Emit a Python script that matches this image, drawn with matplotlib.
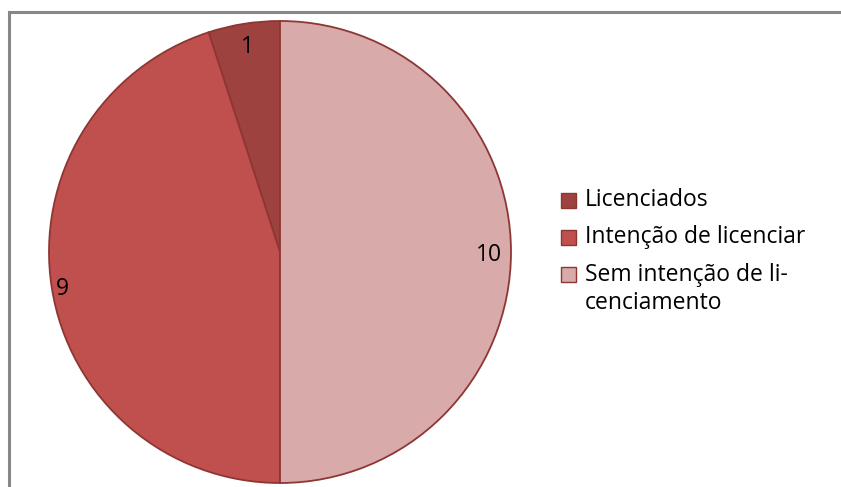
import matplotlib
matplotlib.use("Agg")
import matplotlib.pyplot as plt
from matplotlib.patches import Rectangle

# Data
categories = ["Licenciados", "Intenção de licenciar", "Sem intenção de li-\ncenciamento"]
values = [1, 9, 10]
colors = ["#9E4240", "#C0504D", "#D9AAAA"]
edge_color = "#8E3634"

W, H = 841, 487
fig = plt.figure(figsize=(W / 100, H / 100), dpi=100)
fig.patch.set_facecolor("white")

plt.rcParams["font.family"] = ["Open Sans", "DejaVu Sans"]

# Outer chart frame (only top and left edges fall inside the canvas)
frame = Rectangle((8.5 / W, -0.05), 1.2, 1.05 - 11.5 / H, transform=fig.transFigure,
                  fill=False, edgecolor="#878787", linewidth=2.2)
fig.patches.append(frame)

# Pie area: centre (280, 252) px, radius 231 px
cx, cy, r = 280, 252, 231
ax = fig.add_axes([(cx - r) / W, 1 - (cy + r) / H, 2 * r / W, 2 * r / H])
total = sum(values)
wedges, texts, autotexts = ax.pie(
    values, colors=colors, startangle=90, counterclock=True,
    autopct=lambda p: f"{round(p * total / 100)}", pctdistance=0.91,
    wedgeprops=dict(edgecolor=edge_color, linewidth=1.3),
    textprops=dict(fontsize=16.5, color="black"),
)
ax.set_xlim(-1, 1)
ax.set_ylim(-1, 1)
ax.set_aspect("equal")
ax.axis("off")

# Fine-tune label distance for the wide wedge
dist = [0.91, 0.955, 0.905]
for t, d in zip(autotexts, dist):
    x, y = t.get_position()
    t.set_position((x * d / 0.91, y * d / 0.91 - 0.012))

# Legend
rows_y = [200, 237, 289]
for cat, col, yc in zip(categories, colors, rows_y):
    sq_y = yc if "\n" not in cat else 274
    fig.patches.append(Rectangle((561 / W, 1 - (sq_y + 7.5) / H), 15 / W, 15 / H,
                                 transform=fig.transFigure, facecolor=col,
                                 edgecolor=edge_color, linewidth=1.0))
    fig.text(585 / W, 1 - yc / H, cat, fontsize=16.5, va="center", ha="left",
             linespacing=1.25, color="black")

fig.savefig("out.png", dpi=100)
